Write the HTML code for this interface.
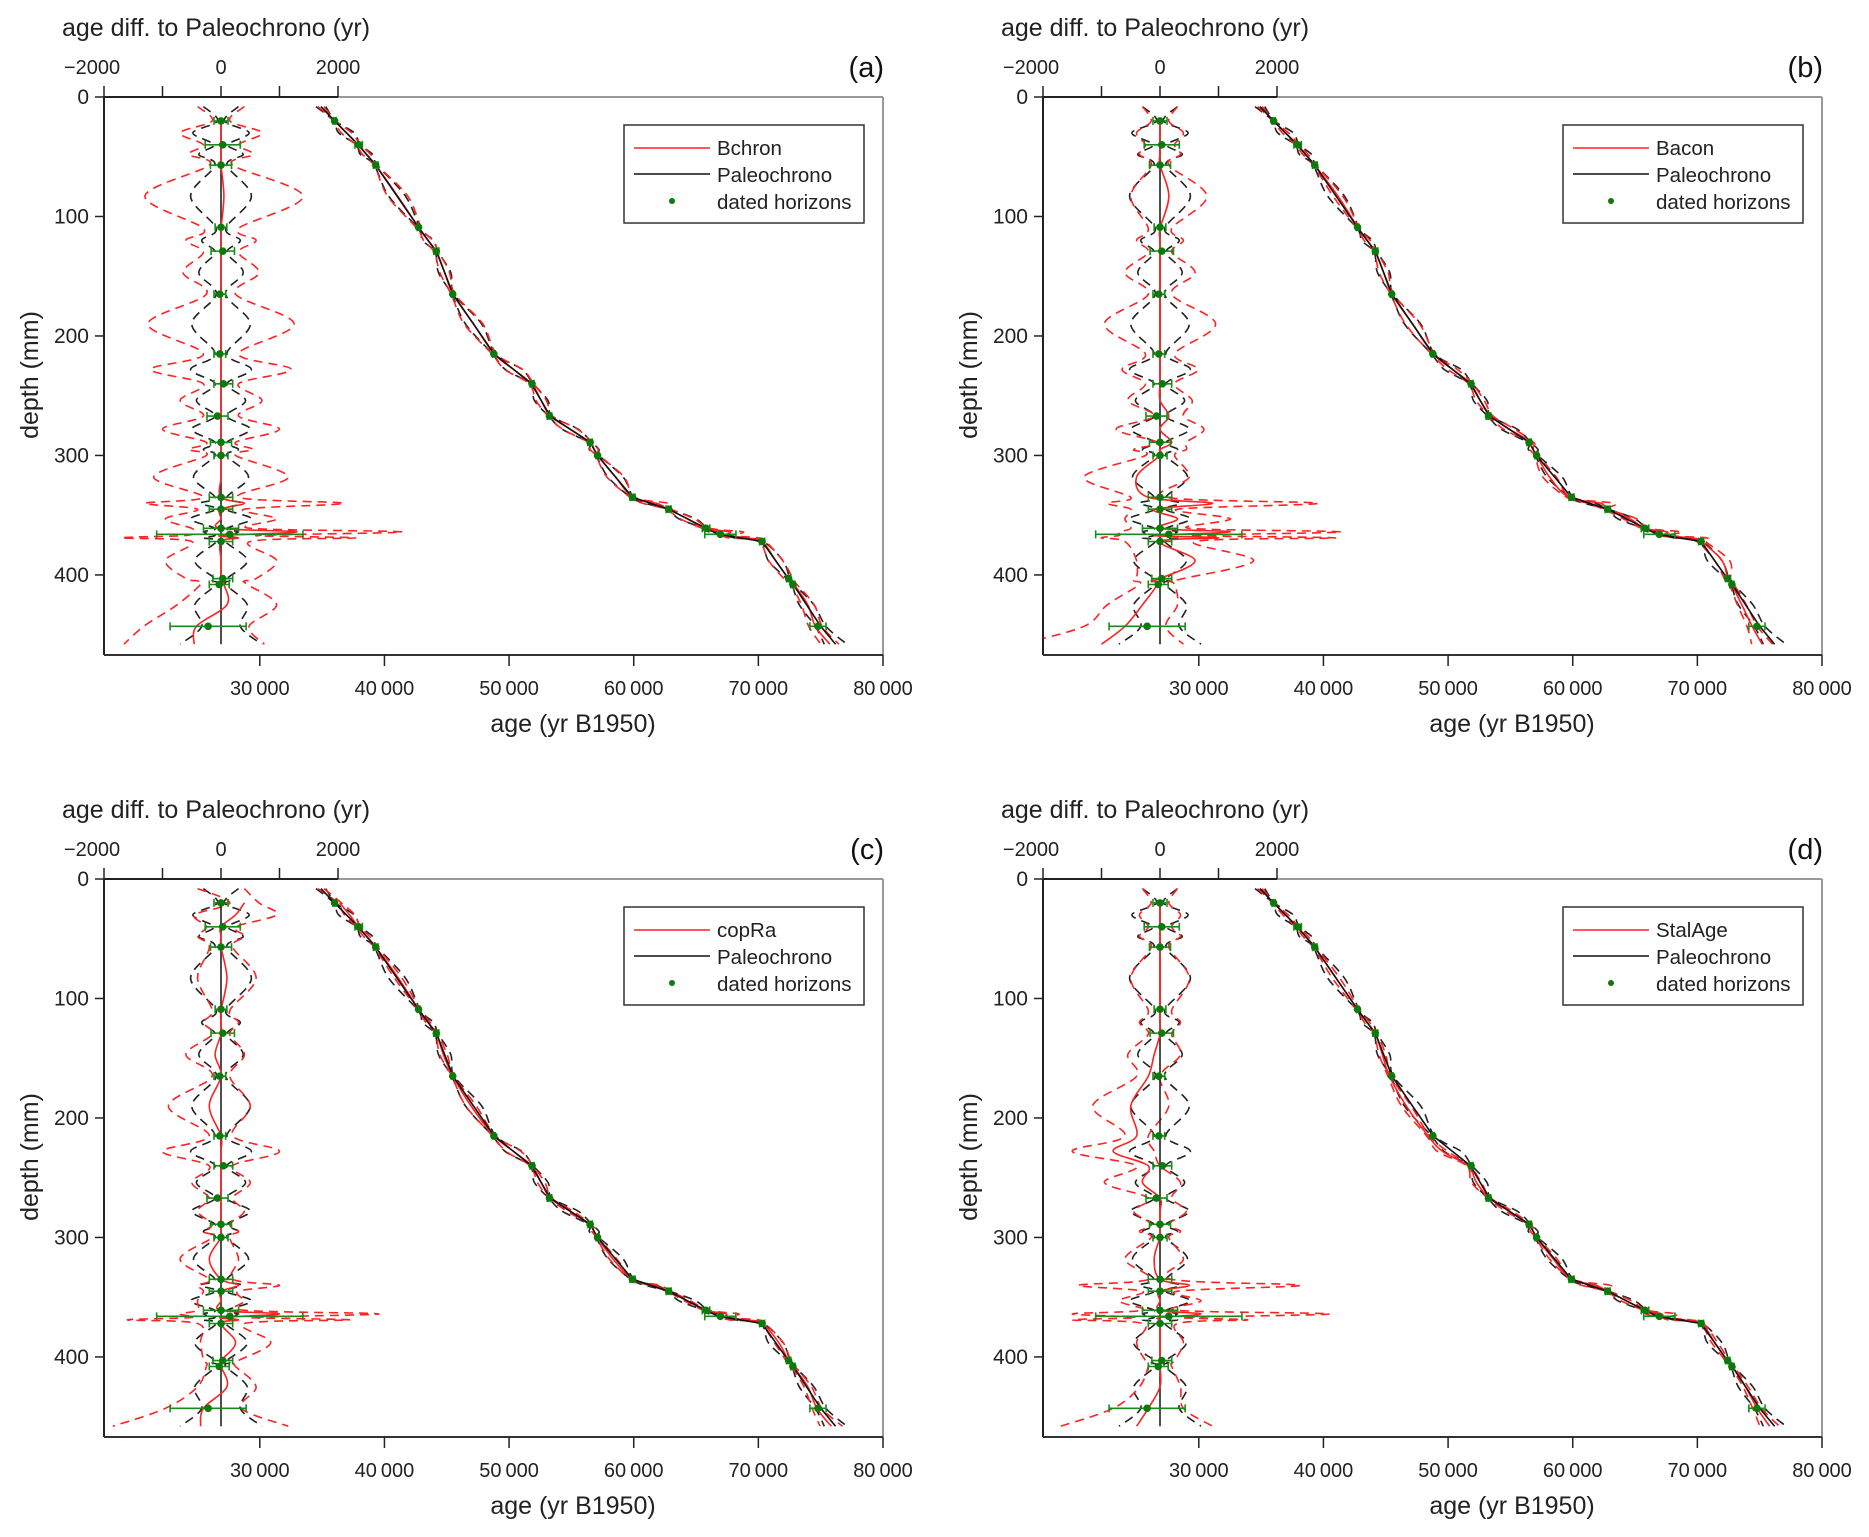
<!DOCTYPE html>
<html><head><meta charset="utf-8">
<style>
html,body{margin:0;padding:0;background:#fff;}
svg{display:block;font-family:"Liberation Sans","DejaVu Sans",sans-serif;}
</style></head>
<body>
<svg id="chart" width="1869" height="1537" viewBox="0 0 1869 1537" xmlns="http://www.w3.org/2000/svg"></svg>
<script>
// ---- data ----
const palDepth = [8,20,40,57,110,130,165,215,240,267,289,300,335,345,361,366,372,403,408,443,458];
const palAge   = [34900,36000,37900,39300,42800,44200,45500,48800,51800,53300,56500,57100,59900,62800,65800,66800,70300,72400,72800,75000,76200];
const horDepth = [20,40,57,109,129,165,215,240,267,289,300,335,345,361,366,372,403,408,443];
const horDiff  = [0,30,0,0,30,-20,-20,40,-60,0,0,0,0,0,150,0,30,-30,-220];
const horErr   = [120,300,180,100,200,100,100,160,180,180,120,200,200,300,1250,200,170,170,650];
const sigDepth = [8,20,30,40,48,57,83,110,120,130,147,165,190,215,228,240,254,267,278,289,295,300,318,335,340,345,353,361,364,367,369,372,388,403,405,408,425,443,458];
const palSig   = [300,60,480,120,380,100,520,80,330,100,380,80,500,100,520,100,420,100,500,100,300,100,470,100,350,80,520,100,300,100,300,80,450,100,150,80,450,330,700];
const sigA = [400,150,700,300,550,200,1350,300,600,300,650,250,1250,300,1200,300,700,300,1000,250,550,250,1150,300,1700,400,950,500,1800,600,2000,500,950,600,400,400,850,900,1200];
const offA = [0,0,0,0,0,0,50,0,0,0,0,0,0,0,0,0,0,0,0,0,0,0,0,0,400,0,0,0,1300,0,300,0,0,0,0,50,100,-420,-460];
const sigB = [300,150,400,250,350,150,650,200,400,200,600,200,950,250,650,250,550,250,750,250,450,250,900,300,1800,400,900,500,1900,600,2000,600,1000,400,300,300,600,700,1400];
const offB = [0,0,0,0,0,0,150,0,0,0,0,0,0,0,0,0,0,150,0,200,0,0,-400,-200,900,-100,300,0,1200,-100,1000,0,600,0,-150,-50,-300,-600,-1000];
const sigC = [400,250,700,250,400,200,500,150,300,150,500,150,700,200,1000,200,500,200,400,150,300,150,500,200,700,300,400,400,1700,500,1900,400,600,300,250,250,500,650,1500];
const offC = [0,400,250,0,0,0,100,0,0,0,-100,0,-200,0,0,0,0,0,0,0,0,0,-200,0,300,0,0,0,1000,0,300,0,250,0,0,0,100,-300,-350];
const sigD = [300,150,350,200,350,150,500,200,350,200,450,200,650,200,700,200,650,200,450,150,350,150,500,200,1900,300,700,300,2200,400,1500,300,400,250,200,200,350,600,1300];
const offD = [0,0,0,0,0,0,0,0,0,0,-100,-200,-500,-400,-800,-200,-300,0,0,0,0,0,-100,0,500,0,0,0,700,0,0,0,0,0,0,0,0,-200,-400];
const ageTicks = [30000,40000,50000,60000,70000,80000];
const ageTickLabels = ["30\u2009000","40\u2009000","50\u2009000","60\u2009000","70\u2009000","80\u2009000"];
const diffTicks = [-2000,-1000,0,1000,2000];
const diffTickLabels = {"-2000":"\u22122000","0":"0","2000":"2000"};
const depthTicks = [0,100,200,300,400];
const panelLabels = ["(a)","(b)","(c)","(d)"];
const modelNames = ["Bchron","Bacon","copRa","StalAge"];

const NS="http://www.w3.org/2000/svg";
const svg=document.getElementById('chart');
function mk(tag,attrs,parent){const e=document.createElementNS(NS,tag);for(const k in attrs)e.setAttribute(k,attrs[k]);(parent||svg).appendChild(e);return e;}
function interp(xs,ys,x){if(x<=xs[0])return ys[0];for(let i=1;i<xs.length;i++){if(x<=xs[i]){const t=(x-xs[i-1])/(xs[i]-xs[i-1]);return ys[i-1]+t*(ys[i]-ys[i-1]);}}return ys[ys.length-1];}
function smooth(pts){let d="M"+pts[0][0].toFixed(1)+","+pts[0][1].toFixed(1);for(let i=0;i<pts.length-1;i++){const p0=pts[i-1]||pts[i],p1=pts[i],p2=pts[i+1],p3=pts[i+2]||p2;const c1=[p1[0]+(p2[0]-p0[0])/6,p1[1]+(p2[1]-p0[1])/6],c2=[p2[0]-(p3[0]-p1[0])/6,p2[1]-(p3[1]-p1[1])/6];d+="C"+c1[0].toFixed(1)+","+c1[1].toFixed(1)+" "+c2[0].toFixed(1)+","+c2[1].toFixed(1)+" "+p2[0].toFixed(1)+","+p2[1].toFixed(1);}return d;}
function poly(pts){return pts.map((p,i)=>(i?"L":"M")+p[0].toFixed(1)+","+p[1].toFixed(1)).join("");}

const sigs=[sigA,sigB,sigC,sigD], offs=[offA,offB,offC,offD];
const offsets=[[0,0],[939,0],[0,782],[939,782]];

offsets.forEach(([ox,oy],pi)=>{
  const L=104+ox,R=883+ox,T=97+oy,B=655+oy;
  const xAge=a=>L+(a-17500)/62500*(R-L);
  const xDiff=d=>L+(d+2000)/4000*234;
  const yD=d=>T+d*(558/467);
  const pal=d=>interp(palDepth,palAge,d);
  const g=mk('g',{});
  
  
  const clipId='clip'+pi;
  const cp=mk('clipPath',{id:clipId},g);mk('rect',{x:L,y:T,width:R-L,height:B-T},cp);
  const plot=mk('g',{'clip-path':'url(#'+clipId+')'},g);
  const sig=sigs[pi],off=offs[pi];

  // --- left (diff) plot ---
  const bl=mk('path',{d:smooth(sigDepth.map((d,i)=>[xDiff(palSig[i]),yD(d)])),fill:'none',stroke:'#222','stroke-width':1.6,'stroke-dasharray':'9,6'},plot);
  
  const bl2=mk('path',{d:smooth(sigDepth.map((d,i)=>[xDiff(-palSig[i]),yD(d)])),fill:'none',stroke:'#222','stroke-width':1.6,'stroke-dasharray':'9,6'},plot);
  
  const r1=mk('path',{d:smooth(sigDepth.map((d,i)=>[xDiff(off[i]+sig[i]),yD(d)])),fill:'none',stroke:'#f22','stroke-width':1.6,'stroke-dasharray':'9,6'},plot);
  
  const r2=mk('path',{d:smooth(sigDepth.map((d,i)=>[xDiff(off[i]-sig[i]),yD(d)])),fill:'none',stroke:'#f22','stroke-width':1.6,'stroke-dasharray':'9,6'},plot);
  
  const zl=mk('line',{x1:xDiff(0),x2:xDiff(0),y1:yD(20),y2:yD(458),stroke:'#222','stroke-width':1.6},plot);
  
  const rs=mk('path',{d:smooth(sigDepth.slice(1).map((d,i)=>[xDiff(off[i+1]),yD(d)])),fill:'none',stroke:'#f22','stroke-width':1.6},plot);
  

  // --- right (age) plot ---
  const palPts=sigDepth.map(d=>pal(d));
  [[1,'paleochrono-sigma-upper'],[-1,'paleochrono-sigma-lower']].forEach(([s,n])=>{
    const p=mk('path',{d:smooth(sigDepth.map((d,i)=>[xAge(palPts[i]+s*palSig[i]*1.3),yD(d)])),fill:'none',stroke:'#222','stroke-width':1.6,'stroke-dasharray':'9,6'},plot);
    
  });
  [[1,'model-sigma-upper'],[-1,'model-sigma-lower']].forEach(([s,n])=>{
    const p=mk('path',{d:smooth(sigDepth.map((d,i)=>[xAge(palPts[i]+off[i]+s*sig[i]*0.6),yD(d)])),fill:'none',stroke:'#f22','stroke-width':1.6,'stroke-dasharray':'9,6'},plot);
    
  });
  const rm=mk('path',{d:smooth(sigDepth.slice(1).map((d,i)=>[xAge(palPts[i+1]+off[i+1]),yD(d)])),fill:'none',stroke:'#f22','stroke-width':1.6},plot);
  
  const pl=mk('path',{d:poly(palDepth.map((d,i)=>[xAge(palAge[i]),yD(d)])),fill:'none',stroke:'#111','stroke-width':1.6},plot);
  

  // dated horizons
  horDepth.forEach((d,i)=>{
    const y=yD(d);
    [[xDiff(horDiff[i]),234/4000],[xAge(pal(d)+horDiff[i]),(R-L)/62500]].forEach(([x,k])=>{
      const w=horErr[i]*k;
      const eb=mk('path',{d:`M${x-w},${y}H${x+w}M${x-w},${y-4}V${y+4}M${x+w},${y-4}V${y+4}`,stroke:'#1a8a1a','stroke-width':1.6,fill:'none'},plot);
      
      const c=mk('circle',{cx:x,cy:y,r:3.8,fill:'#0a7a0a'},plot);
      
    });
  });

  // --- axes ---
  const ax=mk('g',{},g);
  mk('line',{x1:xDiff(2000),y1:T,x2:R,y2:T,stroke:'#999','stroke-width':2},ax);
  mk('line',{x1:R,y1:T,x2:R,y2:B,stroke:'#999','stroke-width':2},ax);
  mk('line',{x1:L,y1:T,x2:xDiff(2000),y2:T,stroke:'#222','stroke-width':2},ax);
  mk('line',{x1:L,y1:T,x2:L,y2:B,stroke:'#222','stroke-width':2},ax);
  mk('line',{x1:L,y1:B,x2:R,y2:B,stroke:'#333','stroke-width':2},ax);
  ageTicks.forEach((a,i)=>{
    const x=xAge(a);
    mk('line',{x1:x,y1:B,x2:x,y2:B+11,stroke:'#222','stroke-width':1.5},ax);
    const t=mk('text',{x:x,y:B+40,'font-size':20,'text-anchor':'middle',fill:'#222'},ax);t.textContent=ageTickLabels[i];
    
  });
  diffTicks.forEach(v=>{
    const x=xDiff(v);
    mk('line',{x1:x,y1:T,x2:x,y2:T-11,stroke:'#222','stroke-width':1.5},ax);
    if(diffTickLabels[String(v)]!==undefined){
      const t=mk('text',{x:x-(v===-2000?12:0),y:T-23,'font-size':20,'text-anchor':'middle',fill:'#222'},ax);t.textContent=diffTickLabels[String(v)];
      
    }
  });
  depthTicks.forEach(v=>{
    const y=yD(v);
    mk('line',{x1:L,y1:y,x2:L-9,y2:y,stroke:'#222','stroke-width':1.5},ax);
    const t=mk('text',{x:L-15,y:y+7,'font-size':21,'text-anchor':'end',fill:'#222'},ax);t.textContent=String(v);
    
  });
  const tt=mk('text',{x:62+ox,y:36+oy,'font-size':25,fill:'#222'},ax);tt.textContent='age diff. to Paleochrono (yr)';
  
  const xt=mk('text',{x:573+ox,y:732+oy,'font-size':25,'text-anchor':'middle',fill:'#222'},ax);xt.textContent='age (yr B1950)';
  
  const yt=mk('text',{x:0,y:0,'font-size':25,'text-anchor':'middle',fill:'#222',transform:`translate(${38+ox},${375+oy}) rotate(-90)`},ax);yt.textContent='depth (mm)';
  
  const pt=mk('text',{x:884+ox,y:77+oy,'font-size':29,'text-anchor':'end',fill:'#111'},ax);pt.textContent=panelLabels[pi];
  

  // --- legend ---
  const lg=mk('g',{},g);
  
  mk('rect',{x:624+ox,y:125+oy,width:240,height:98,fill:'#fff',stroke:'#333','stroke-width':1.5},lg);
  mk('line',{x1:634+ox,x2:710+ox,y1:148+oy,y2:148+oy,stroke:'#f22','stroke-width':1.6},lg);
  mk('line',{x1:634+ox,x2:710+ox,y1:174+oy,y2:174+oy,stroke:'#111','stroke-width':1.6},lg);
  mk('circle',{cx:672+ox,cy:201+oy,r:3,fill:'#0a7a0a'},lg);
  [[modelNames[pi],155],['Paleochrono',182],['dated horizons',209]].forEach(([s,yy])=>{
    const t=mk('text',{x:717+ox,y:yy+oy,'font-size':20.5,fill:'#222'},lg);t.textContent=s;
    
  });
});
</script>
</body></html>
